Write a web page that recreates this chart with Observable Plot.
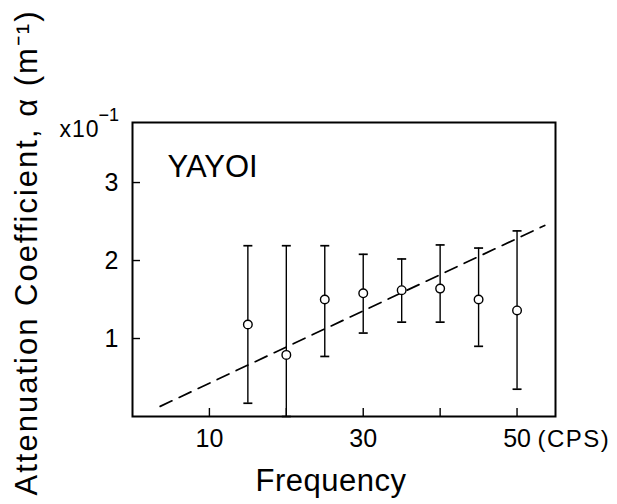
<!DOCTYPE html>
<html>
<head>
<meta charset="utf-8">
<script src="https://cdn.jsdelivr.net/npm/d3@7"></script>
<script src="https://cdn.jsdelivr.net/npm/@observablehq/plot@0.6"></script>
<style>
  html, body { margin: 0; padding: 0; background: #fff; }
</style>
</head>
<body>
<div id="chart"></div>
<script>
// Attenuation coefficient vs frequency, YAYOI site (values in units of 1e-1 m^-1)
const freq      = [15, 20, 25, 30, 35, 40, 45, 50];
const alpha     = [1.18, 0.79, 1.50, 1.58, 1.62, 1.64, 1.50, 1.36];
const alphaLow  = [0.17, 0.00, 0.77, 1.07, 1.21, 1.21, 0.90, 0.35];
const alphaHigh = [2.19, 2.19, 2.19, 2.08, 2.02, 2.20, 2.16, 2.38];

// dashed trend line end points
const trendFreq  = [3.6, 53.6];
const trendAlpha = [0.13, 2.45];

// axis ticks and labels
const xTicks = [10, 20, 30, 40, 50];
const xTickLabels = [10, 30, 50];
const yTicks = [1, 2, 3];

const yTitle = "Attenuation Coefficient, \u03b1 (m\u207b\u00b9)";
const xTitle = "Frequency";
const unitLabel = "(CPS)";

const data = freq.map((f, i) => ({f, a: alpha[i], lo: alphaLow[i], hi: alphaHigh[i]}));
const trend = trendFreq.map((f, i) => ({f, a: trendAlpha[i]}));

// short horizontal bar used as an error-bar cap
const cap = {
  draw(context, size) {
    const r = Math.sqrt(size / Math.PI);
    context.moveTo(-r, 0);
    context.lineTo(r, 0);
  }
};

const chart = Plot.plot({
  width: 617,
  height: 504,
  marginLeft: 132,
  marginRight: 62,
  marginTop: 122,
  marginBottom: 88,
  style: {fontFamily: "'Liberation Sans', Arial, sans-serif", fontSize: "24px", background: "#fff", color: "#000"},
  x: {domain: [0, 55]},
  y: {domain: [0, 3.77]},
  marks: [
    // inward tick marks
    Plot.axisX(xTicks, {tickSize: 8, dy: -8, tickFormat: () => "", label: null, strokeWidth: 1.4}),
    Plot.axisY(yTicks, {tickSize: 8, dx: 8, tickFormat: () => "", label: null, strokeWidth: 1.4}),
    // tick labels
    Plot.axisX(xTickLabels, {tickSize: 0, tickPadding: 13, fontSize: 25, label: null, tickFormat: d => String(d)}),
    Plot.axisY(yTicks, {tickSize: 0, tickPadding: 14, fontSize: 25, label: null, tickFormat: d => String(d)}),
    Plot.frame({stroke: "#000", strokeWidth: 2}),
    // error bars
    Plot.ruleX(data, {x: "f", y1: "lo", y2: "hi", stroke: "#000", strokeWidth: 1.4}),
    Plot.dot(data, {x: "f", y: "hi", symbol: cap, r: 4.5, fill: "none", stroke: "#000", strokeWidth: 1.7}),
    Plot.dot(data, {x: "f", y: "lo", symbol: cap, r: 4.5, fill: "none", stroke: "#000", strokeWidth: 1.7}),
    // trend line
    Plot.line(trend, {x: "f", y: "a", stroke: "#000", strokeWidth: 1.7, strokeDasharray: "13,8"}),
    // measured values
    Plot.dot(data, {x: "f", y: "a", r: 4.3, fill: "#fff", stroke: "#000", strokeWidth: 1.4}),
    // annotations
    Plot.text(["YAYOI"], {frameAnchor: "top-left", textAnchor: "start", lineAnchor: "middle", dx: 35, dy: 45, fontSize: 31}),
    Plot.text(["x10"], {frameAnchor: "top-left", textAnchor: "start", lineAnchor: "middle", dx: -73, dy: 7, fontSize: 23}),
    Plot.text(["\u22121"], {frameAnchor: "top-left", textAnchor: "start", lineAnchor: "middle", dx: -34, dy: -7, fontSize: 18}),
    Plot.text([unitLabel], {frameAnchor: "bottom-right", textAnchor: "start", lineAnchor: "top", dx: -18, dy: 13, fontSize: 24}),
    Plot.text([xTitle], {frameAnchor: "bottom", textAnchor: "middle", lineAnchor: "middle", dx: -13, dy: 65, fontSize: 31}),
    Plot.text([yTitle], {frameAnchor: "left", textAnchor: "middle", lineAnchor: "middle", rotate: -90, dx: -105, dy: -17, fontSize: 31})
  ]
});

// widen the letter spacing of the lettered titles
const spacing = new Map([[yTitle, "2px"], [unitLabel, "1.5px"], [xTitle, "0.5px"], ["x10", "1px"]]);
d3.select(chart).selectAll("text").each(function () {
  const s = spacing.get(this.textContent);
  if (s) this.setAttribute("letter-spacing", s);
});

document.getElementById("chart").append(chart);
</script>
</body>
</html>
